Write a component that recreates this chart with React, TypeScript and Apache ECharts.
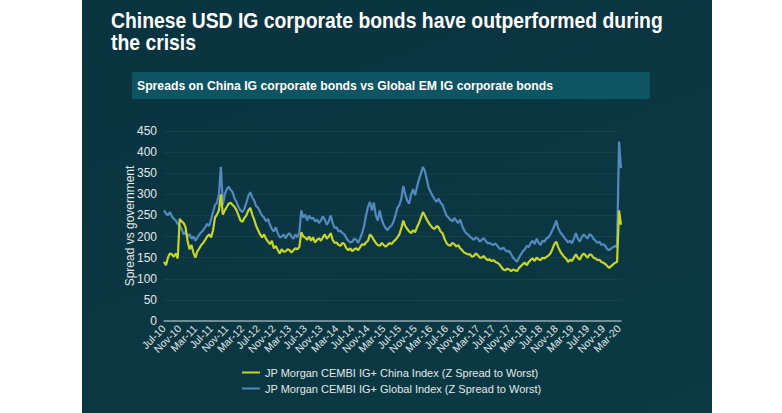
import React, { useEffect, useRef } from "react";
import * as echarts from "echarts";

const TITLE_LINES = ["Chinese USD IG corporate bonds have outperformed during", "the crisis"];
const SUBTITLE = "Spreads on China IG corporate bonds vs Global EM IG corporate bonds";
const Y_NAME = "Spread vs government";
const SERIES_NAMES = [
  "JP Morgan CEMBI IG+ China Index (Z Spread to Worst)",
  "JP Morgan CEMBI IG+ Global Index (Z Spread to Worst)",
];
const MONTH_NAMES = ["Jan", "Feb", "Mar", "Apr", "May", "Jun", "Jul", "Aug", "Sep", "Oct", "Nov", "Dec"];
const START = { year: 2010, month: 6 }; // Jul-10
const MONTH_COUNT = 117; // Jul-10 .. Mar-20, two observations per month
const Y_MIN = 0;
const Y_MAX = 450;
const Y_STEP = 50;

// semi-monthly readings (two per month), Jul-10 .. Mar-20
const CHINA = [
  140, 132, 150, 160, 158, 152, 160, 148, 242, 236, 232, 222, 190, 170, 180, 162, 150, 165, 172, 180,
  185, 192, 200, 205, 198, 215, 245, 252, 262, 300, 252, 262, 270, 278, 280, 275, 270, 262, 250, 238,
  235, 244, 250, 262, 268, 252, 240, 225, 215, 205, 198, 205, 195, 188, 182, 190, 172, 178, 168, 160,
  170, 164, 165, 170, 168, 162, 168, 172, 170, 175, 210, 200, 198, 192, 200, 190, 198, 186, 192, 196,
  190, 198, 205, 195, 200, 208, 192, 185, 186, 180, 178, 185, 182, 172, 168, 172, 165, 170, 172, 168,
  175, 182, 180, 186, 190, 205, 200, 192, 185, 180, 178, 185, 180, 176, 180, 185, 182, 188, 192, 198,
  205, 220, 238, 225, 218, 212, 208, 215, 210, 222, 232, 245, 258, 250, 240, 232, 226, 220, 218, 225,
  222, 212, 208, 195, 185, 180, 178, 185, 182, 176, 180, 172, 168, 162, 160, 158, 158, 152, 154, 160,
  156, 150, 150, 154, 148, 144, 146, 142, 144, 140, 138, 134, 128, 122, 120, 124, 122, 118, 122, 120,
  118, 126, 130, 135, 138, 132, 140, 145, 148, 142, 150, 146, 144, 150, 148, 152, 155, 160, 170, 182,
  188, 175, 165, 158, 152, 148, 140, 145, 142, 150, 158, 150, 145, 155, 160, 155, 150, 158, 156, 150,
  148, 144, 145, 140, 138, 135, 130, 126, 130, 134, 138, 140, 262, 228,
];

const GLOBAL = [
  262, 255, 250, 258, 248, 242, 238, 230, 226, 218, 205, 212, 198, 206, 195, 200, 190, 198, 205, 210,
  215, 222, 230, 225, 240, 258, 275, 280, 300, 365, 275, 300, 312, 318, 310, 305, 290, 282, 270, 262,
  258, 266, 280, 296, 305, 292, 285, 272, 268, 258, 250, 245, 236, 242, 228, 218, 212, 222, 208, 198,
  200, 205, 196, 204, 208, 200, 195, 205, 198, 210, 262, 245, 252, 238, 250, 242, 245, 236, 240, 232,
  238, 248, 240, 228, 236, 250, 232, 220, 222, 212, 214, 208, 205, 196, 190, 186, 188, 195, 192, 185,
  196, 208, 225, 250, 270, 282, 262, 280, 250, 238, 262, 240, 228, 220, 215, 222, 226, 235, 250, 268,
  275, 290, 320, 300, 285, 278, 300, 312, 298, 318, 335, 350, 365, 355, 335, 315, 305, 296, 288, 282,
  290, 280, 275, 262, 250, 245, 240, 236, 244, 238, 232, 240, 226, 215, 208, 205, 200, 196, 192, 198,
  195, 188, 192, 196, 190, 184, 185, 182, 180, 184, 178, 172, 170, 174, 168, 164, 166, 158, 150, 145,
  140, 150, 158, 165, 170, 178, 175, 185, 190, 182, 195, 185, 180, 190, 188, 196, 198, 205, 215, 225,
  238, 220, 210, 205, 198, 192, 186, 190, 184, 195, 208, 195, 188, 198, 205, 200, 195, 206, 202, 195,
  190, 185, 188, 180, 182, 178, 170, 168, 172, 175, 178, 176, 425, 362,
];

const CATEGORIES: string[] = [];
for (let k = 0; k < MONTH_COUNT; k++) {
  const mi = (START.month + k) % 12;
  const yr = START.year + Math.floor((START.month + k) / 12);
  const label = MONTH_NAMES[mi] + "-" + String(yr % 100).padStart(2, "0");
  CATEGORIES.push(label + "|a", label + "|b");
}

const FONT = "'Liberation Sans', Arial, sans-serif";

export default function App() {
  const ref = useRef<HTMLDivElement>(null);

  useEffect(() => {
    if (!ref.current) return;
    const chart = echarts.init(ref.current, null, { renderer: "svg" });
    chart.setOption({
      animation: false,
      backgroundColor: "transparent",
      textStyle: { fontFamily: FONT },
      graphic: [
        {
          type: "rect",
          shape: { x: 132, y: 72, width: 518, height: 27, r: 2 },
          style: { fill: "#0f5462" },
        },
        {
          type: "text",
          x: 137,
          y: 86,
          scaleX: 0.94,
          style: {
            text: SUBTITLE,
            fill: "#ffffff",
            font: "bold 13px " + FONT,
            verticalAlign: "middle",
            align: "left",
          },
        },
        {
          type: "text",
          x: 111,
          y: 20,
          scaleX: 0.88,
          style: {
            text: TITLE_LINES[0],
            fill: "#ffffff",
            font: "bold 22px " + FONT,
            verticalAlign: "middle",
            align: "left",
          },
        },
        {
          type: "text",
          x: 111,
          y: 42,
          scaleX: 0.88,
          style: {
            text: TITLE_LINES[1],
            fill: "#ffffff",
            font: "bold 22px " + FONT,
            verticalAlign: "middle",
            align: "left",
          },
        },
      ],
      legend: {
        data: SERIES_NAMES,
        orient: "vertical",
        left: 237,
        top: 362,
        itemGap: 5,
        itemWidth: 18,
        itemHeight: 2,
        icon: "rect",
        textStyle: { color: "#e2e8ea", fontSize: 11, fontFamily: FONT },
      },
      grid: { left: 164, right: 161, top: 131, bottom: 92, containLabel: false },
      xAxis: {
        type: "category",
        data: CATEGORIES,
        boundaryGap: false,
        axisLine: { lineStyle: { color: "#8fa9b1", width: 1.5 } },
        axisTick: { show: false },
        splitLine: { show: false },
        axisLabel: {
          interval: (i: number) => i % 8 === 0,
          formatter: (v: string) => v.split("|")[0],
          rotate: 45,
          color: "#e2e8ea",
          fontSize: 10.5,
          margin: 6,
          fontFamily: FONT,
        },
      },
      yAxis: {
        type: "value",
        min: Y_MIN,
        max: Y_MAX,
        interval: Y_STEP,
        name: Y_NAME,
        nameLocation: "middle",
        nameRotate: 90,
        nameGap: 28,
        nameMoveOverlap: false,
        nameTextStyle: { color: "#e2e8ea", fontSize: 12, fontFamily: FONT },
        axisLine: { show: false },
        axisTick: { show: false },
        splitLine: { lineStyle: { color: "rgba(255,255,255,0.05)", width: 1 } },
        axisLabel: { color: "#e2e8ea", fontSize: 12, margin: 7, fontFamily: FONT },
      },
      series: [
        {
          name: SERIES_NAMES[0],
          type: "line",
          data: CHINA,
          showSymbol: false,
          z: 3,
          lineStyle: { color: "#c6d52c", width: 2.2 },
          itemStyle: { color: "#c6d52c" },
        },
        {
          name: SERIES_NAMES[1],
          type: "line",
          data: GLOBAL,
          showSymbol: false,
          z: 2,
          lineStyle: { color: "#5389bd", width: 2.2 },
          itemStyle: { color: "#5389bd" },
        },
      ],
    });
    return () => chart.dispose();
  }, []);

  return (
    <div style={{ position: "fixed", left: 0, top: 0, width: 782, height: 413, background: "#ffffff" }}>
      <div
        style={{
          position: "absolute",
          left: 82,
          top: 0,
          width: 630,
          height: 413,
          background: "linear-gradient(160deg, #0a3340 0%, #0b3642 55%, #0a3a44 100%)",
        }}
      />
      <div ref={ref} style={{ position: "absolute", left: 0, top: 0, width: 782, height: 413 }} />
    </div>
  );
}
